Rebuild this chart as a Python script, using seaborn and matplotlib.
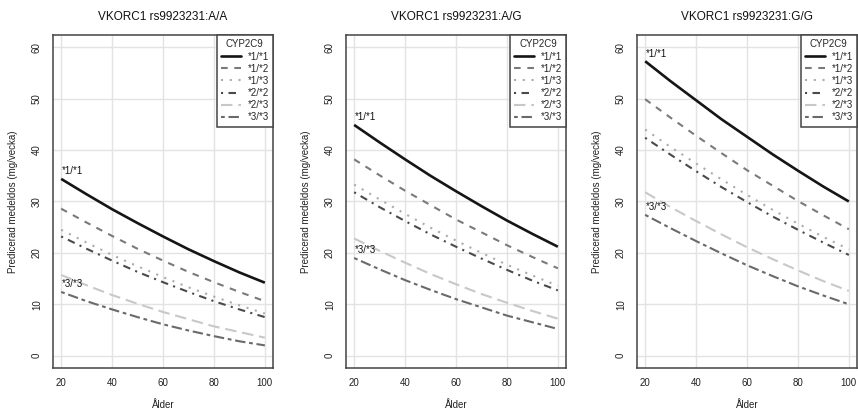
import numpy as np
import pandas as pd
import matplotlib
matplotlib.use("Agg")
import matplotlib.pyplot as plt
from matplotlib.lines import Line2D
import seaborn as sns

ages = [20, 30, 40, 50, 60, 70, 80, 90, 100]
genotypes = ["*1/*1", "*1/*2", "*1/*3", "*2/*2", "*2/*3", "*3/*3"]
panel_titles = ["VKORC1 rs9923231:A/A", "VKORC1 rs9923231:A/G", "VKORC1 rs9923231:G/G"]

dose_AA = {
    "*1/*1": [34.4, 31.4, 28.5, 25.8, 23.2, 20.7, 18.4, 16.2, 14.2],
    "*1/*2": [28.6, 25.9, 23.3, 20.8, 18.5, 16.3, 14.3, 12.4, 10.6],
    "*1/*3": [24.5, 22.0, 19.6, 17.4, 15.3, 13.3, 11.5, 9.8, 8.2],
    "*2/*2": [23.2, 20.8, 18.5, 16.3, 14.3, 12.4, 10.6, 9.0, 7.5],
    "*2/*3": [15.7, 13.7, 11.8, 10.1, 8.5, 7.1, 5.7, 4.6, 3.5],
    "*3/*3": [12.4, 10.6, 9.0, 7.5, 6.1, 4.9, 3.8, 2.8, 2.0],
}
dose_AG = {
    "*1/*1": [44.9, 41.5, 38.2, 35.0, 32.0, 29.1, 26.3, 23.7, 21.2],
    "*1/*2": [38.2, 35.1, 32.1, 29.3, 26.5, 24.0, 21.5, 19.2, 17.0],
    "*1/*3": [33.3, 30.4, 27.6, 24.9, 22.4, 20.0, 17.7, 15.6, 13.6],
    "*2/*2": [31.8, 28.9, 26.2, 23.6, 21.2, 18.9, 16.7, 14.6, 12.7],
    "*2/*3": [22.8, 20.4, 18.1, 15.9, 13.9, 12.0, 10.3, 8.7, 7.2],
    "*3/*3": [19.0, 16.8, 14.7, 12.8, 11.0, 9.4, 7.8, 6.5, 5.2],
}
dose_GG = {
    "*1/*1": [57.3, 53.4, 49.7, 46.0, 42.6, 39.2, 36.0, 32.9, 30.0],
    "*1/*2": [49.9, 46.3, 42.8, 39.4, 36.1, 33.1, 30.1, 27.3, 24.6],
    "*1/*3": [44.0, 40.6, 37.4, 34.3, 31.3, 28.4, 25.7, 23.1, 20.7],
    "*2/*2": [42.4, 39.1, 35.9, 32.8, 29.9, 27.1, 24.5, 22.0, 19.6],
    "*2/*3": [31.8, 28.9, 26.2, 23.6, 21.1, 18.8, 16.6, 14.5, 12.6],
    "*3/*3": [27.4, 24.8, 22.3, 19.9, 17.6, 15.5, 13.5, 11.7, 10.0],
}
panels = [dose_AA, dose_AG, dose_GG]

colors = {"*1/*1": "#151515", "*1/*2": "#7a7a7a", "*1/*3": "#ababab",
          "*2/*2": "#4a4a4a", "*2/*3": "#c8c8c8", "*3/*3": "#6a6a6a"}
dashes = {"*1/*1": "", "*1/*2": (3.2, 3.2), "*1/*3": (1.0, 3.2),
          "*2/*2": (1.0, 2.6, 3.6, 2.6), "*2/*3": (5.5, 2.8),
          "*3/*3": (1.8, 1.8, 5.0, 1.8)}
widths = {"*1/*1": 1.9, "*1/*2": 1.5, "*1/*3": 1.5, "*2/*2": 1.5,
          "*2/*3": 1.5, "*3/*3": 1.5}

sns.set_style("white")
plt.rcParams["font.family"] = ["Liberation Sans", "DejaVu Sans"]

fig = plt.figure(figsize=(8.58, 4.11), dpi=100)
lefts = [53 / 858, 346 / 858, 637 / 858]
width = 220 / 858
bottom = 1 - 368 / 411
height = (368 - 35) / 411
edge = "#444444"

for i, (data, title) in enumerate(zip(panels, panel_titles)):
    ax = fig.add_axes([lefts[i], bottom, width, height])
    rows = []
    for g in genotypes:
        for a, v in zip(ages, data[g]):
            rows.append({"age": a, "dose": v, "cyp": g})
    df = pd.DataFrame(rows)
    ax.set_xlim(16.8, 103.2)
    ax.set_ylim(-2.4, 62.4)
    ax.set_xticks([20, 40, 60, 80, 100])
    ax.set_yticks([0, 10, 20, 30, 40, 50, 60])
    ax.grid(True, color="#e3e3e3", linewidth=1.0)
    ax.set_axisbelow(True)
    sns.lineplot(data=df, x="age", y="dose", hue="cyp", style="cyp", size="cyp",
                 hue_order=genotypes, style_order=genotypes, size_order=genotypes,
                 palette=colors, dashes=dashes, sizes=widths, legend=False, ax=ax)
    for ln in ax.get_lines():
        ln.set_solid_capstyle("butt")
        ln.set_dash_capstyle("butt")
    for s in ax.spines.values():
        s.set_color(edge)
        s.set_linewidth(1.1)
    ax.tick_params(axis="both", direction="out", length=4, width=0.9, color=edge,
                   labelsize=7, pad=3, labelcolor="#222222")
    ax.tick_params(axis="y", pad=4)
    for lab in ax.get_yticklabels():
        lab.set_rotation(90)
        lab.set_va("center")
    ax.set_xlabel("Ålder", fontsize=7, labelpad=9, color="#222222")
    ax.set_ylabel("Predicerad medeldos (mg/vecka)", fontsize=7, labelpad=10, color="#222222")
    ax.set_title(title, fontsize=8.5, pad=11, color="#111111")
    ax.text(20.4, data["*1/*1"][0] + 0.5, "*1/*1", fontsize=7, ha="left", va="bottom", color="#111111")
    ax.text(20.4, data["*3/*3"][0] + 0.5, "*3/*3", fontsize=7, ha="left", va="bottom", color="#111111")
    handles = [Line2D([0], [0], color=colors[g], lw=widths[g],
                      linestyle=(0, dashes[g]) if dashes[g] else "-") for g in genotypes]
    leg = ax.legend(handles, genotypes, title="CYP2C9", loc="upper right",
                    bbox_to_anchor=(1, 1), borderaxespad=0, fontsize=7, title_fontsize=7,
                    frameon=True, fancybox=False, framealpha=1, edgecolor=edge,
                    handlelength=2.0, handletextpad=0.7, labelspacing=0.22,
                    borderpad=0.45)
    leg.get_frame().set_linewidth(1.1)

fig.savefig("out.png", dpi=100)
